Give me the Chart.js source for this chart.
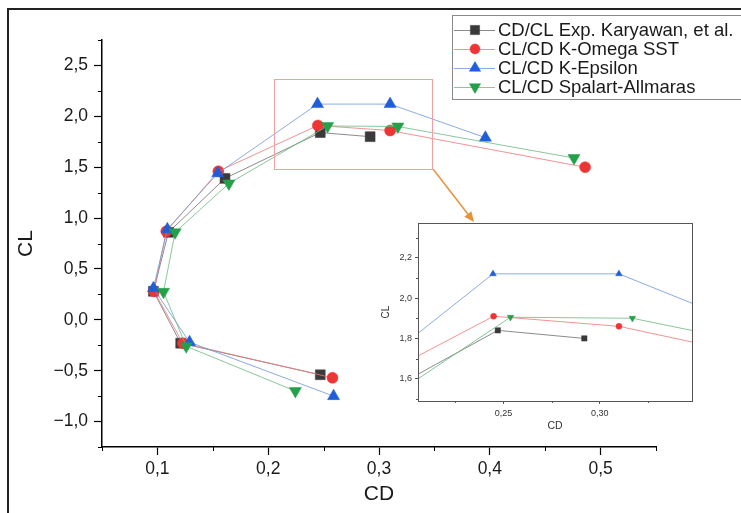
<!DOCTYPE html>
<html><head><meta charset="utf-8">
<script src="https://cdn.jsdelivr.net/npm/chart.js@4"></script>
<style>
html,body{margin:0;padding:0;background:#fff;}
#wrap{position:relative;width:741px;height:513px;overflow:hidden;background:#fff;}
#main{position:absolute;left:0;top:0;}
#inset{position:absolute;left:378px;top:215px;}
</style></head><body>
<div id="wrap"><canvas id="main" width="741" height="513"></canvas><canvas id="inset" width="322" height="225"></canvas></div>
<script>
// ---- data ----
const seriesNames = ['CD/CL Exp. Karyawan, et al.', 'CL/CD K-Omega SST', 'CL/CD K-Epsilon', 'CL/CD Spalart-Allmaras'];
const expCD    = [0.247, 0.121, 0.0964, 0.110, 0.161, 0.247, 0.292];
const expCL    = [-0.54, -0.23, 0.28, 0.86, 1.39, 1.84, 1.80];
const komegaCD = [0.258, 0.123, 0.097, 0.108, 0.155, 0.2448, 0.310, 0.486];
const komegaCL = [-0.57, -0.23, 0.28, 0.87, 1.46, 1.91, 1.86, 1.50];
const kepsCD   = [0.259, 0.129, 0.0964, 0.109, 0.1545, 0.2445, 0.310, 0.396];
const kepsCL   = [-0.75, -0.22, 0.31, 0.89, 1.44, 2.12, 2.12, 1.79];
const saCD     = [0.2245, 0.126, 0.1055, 0.116, 0.1645, 0.2536, 0.317, 0.476];
const saCL     = [-0.70, -0.26, 0.275, 0.86, 1.34, 1.905, 1.90, 1.59];

// main axes
const xRange = [0.05, 0.55];
const yRange = [-1.25, 2.75];
const xMajor = [0.1, 0.2, 0.3, 0.4, 0.5];
const xTickLabels = ['0,1', '0,2', '0,3', '0,4', '0,5'];
const xMinor = [0.05, 0.15, 0.25, 0.35, 0.45, 0.55];
const yMajor = [-1.0, -0.5, 0.0, 0.5, 1.0, 1.5, 2.0, 2.5];
const yTickLabels = ['\u22121,0', '\u22120,5', '0,0', '0,5', '1,0', '1,5', '2,0', '2,5'];
const yMinor = [-1.25, -0.75, -0.25, 0.25, 0.75, 1.25, 1.75, 2.25, 2.75];

// zoomed region (inset)
const zoomCD = [0.2055, 0.348];
const zoomCL = [1.49, 2.37];
const insetXMajor = [0.25, 0.30];
const insetXTickLabels = ['0,25', '0,30'];
const insetXMinor = [0.225, 0.275, 0.325];
const insetYMajor = [1.6, 1.8, 2.0, 2.2];
const insetYTickLabels = ['1,6', '1,8', '2,0', '2,2'];
const insetYMinor = [1.5, 1.7, 1.9, 2.1, 2.3];

// ---- styles ----
const styles = [
  {marker:'#3a3a3a', line:'rgba(90,90,90,0.7)', pointStyle:'rect', rotation:0, r:7, ri:3.8, rl:6.5},
  {marker:'#ee3535', line:'rgba(238,120,120,0.8)', pointStyle:'circle', rotation:0, r:5.5, ri:3, rl:5},
  {marker:'#1e5fd8', line:'rgba(110,150,220,0.8)', pointStyle:'triangle', rotation:0, r:7, ri:3.8, rl:6.5},
  {marker:'#22a04a', line:'rgba(110,185,130,0.8)', pointStyle:'triangle', rotation:180, r:7, ri:3.8, rl:6.5}
];
const xs = [expCD, komegaCD, kepsCD, saCD];
const ys = [expCL, komegaCL, kepsCL, saCL];

function makeDatasets(inset){
  return seriesNames.map((name,i)=>({
    label:name,
    data: xs[i].map((x,j)=>({x:x, y:ys[i][j]})),
    showLine:true,
    borderColor:styles[i].line,
    borderWidth:1,
    backgroundColor:styles[i].marker,
    pointBackgroundColor:styles[i].marker,
    pointBorderColor:styles[i].marker,
    pointBorderWidth:0.5,
    pointStyle:styles[i].pointStyle,
    rotation:styles[i].rotation,
    pointRadius: inset ? styles[i].ri : styles[i].r,
    pointHoverRadius: inset ? styles[i].ri : styles[i].r,
    tension:0
  })).reverse();
}

const FONT = "'Liberation Sans', Arial, sans-serif";
const near = (a,b)=>Math.abs(a-b)<1e-9;
function labelFor(v, majors, labels){
  const k = majors.findIndex(m=>near(m,v));
  return k>=0 ? labels[k] : '';
}

function minorTickPlugin(id, xMin, yMin, len, color){
  return {
    id:id,
    afterDraw(chart){
      const ctx = chart.ctx, xS = chart.scales.x, yS = chart.scales.y;
      ctx.save();
      ctx.strokeStyle = color; ctx.lineWidth = 1;
      ctx.beginPath();
      xMin.forEach(v=>{const p = Math.round(xS.getPixelForValue(v))+0.5; ctx.moveTo(p, yS.bottom); ctx.lineTo(p, yS.bottom+len);});
      yMin.forEach(v=>{const p = Math.round(yS.getPixelForValue(v))+0.5; ctx.moveTo(xS.left, p); ctx.lineTo(xS.left-len, p);});
      ctx.stroke();
      ctx.restore();
    }
  };
}

const decorPlugin = {
  id:'decor',
  beforeDraw(chart){
    const ctx = chart.ctx;
    ctx.save();
    ctx.fillStyle='#fff'; ctx.fillRect(0,0,chart.width,chart.height);
    ctx.strokeStyle='#222'; ctx.lineWidth=2;
    ctx.strokeRect(8,9,760,520);
    ctx.restore();
  },
  afterDraw(chart){
    const ctx = chart.ctx, xS = chart.scales.x, yS = chart.scales.y;
    ctx.save();
    // zoom box
    const x0 = xS.getPixelForValue(zoomCD[0]), x1 = xS.getPixelForValue(zoomCD[1]);
    const y0 = yS.getPixelForValue(zoomCL[1]), y1 = yS.getPixelForValue(zoomCL[0]);
    ctx.strokeStyle='#f0a0a0'; ctx.lineWidth=1;
    ctx.strokeRect(Math.round(x0)+0.5, Math.round(y0)+0.5, Math.round(x1-x0), Math.round(y1-y0));
    // arrow
    const ax = x1+1, ay = y1+1, bx = 474, by = 222;
    const ang = Math.atan2(by-ay, bx-ax);
    ctx.strokeStyle='#e8923a'; ctx.fillStyle='#e8923a'; ctx.lineWidth=1.5;
    ctx.beginPath(); ctx.moveTo(ax,ay); ctx.lineTo(bx-6*Math.cos(ang),by-6*Math.sin(ang)); ctx.stroke();
    ctx.beginPath();
    ctx.moveTo(bx,by);
    ctx.lineTo(bx-11*Math.cos(ang-0.42), by-11*Math.sin(ang-0.42));
    ctx.lineTo(bx-11*Math.cos(ang+0.42), by-11*Math.sin(ang+0.42));
    ctx.closePath(); ctx.fill();
    // legend
    const lx=452, ly=15, lw=320, lh=84;
    ctx.fillStyle='#fff'; ctx.fillRect(lx,ly,lw,lh);
    ctx.strokeStyle='#8a8a8a'; ctx.lineWidth=1;
    ctx.strokeRect(lx+0.5,ly+0.5,lw,lh);
    ctx.font = "18.5px " + FONT;
    ctx.textBaseline='middle'; ctx.textAlign='left';
    seriesNames.forEach((name,i)=>{
      const cy = 30 + i*19;
      ctx.strokeStyle = styles[i].line; ctx.lineWidth=1;
      ctx.beginPath(); ctx.moveTo(454,cy+0.5); ctx.lineTo(495,cy+0.5); ctx.stroke();
      ctx.fillStyle = styles[i].marker; ctx.strokeStyle = styles[i].marker; ctx.lineWidth=0.5;
      Chart.helpers.drawPoint(ctx, {pointStyle:styles[i].pointStyle, rotation:styles[i].rotation, radius:styles[i].rl, borderWidth:0.5}, 475, cy);
      ctx.fillStyle='#1a1a1a';
      ctx.fillText(name, 498, cy+1);
    });
    ctx.restore();
  }
};

Chart.defaults.font.family = FONT;
Chart.defaults.color = '#1a1a1a';

new Chart(document.getElementById('main'), {
  type:'scatter',
  data:{datasets:makeDatasets(false)},
  options:{
    responsive:false, animation:false, devicePixelRatio:1,
    layout:{padding:{left:14, right:85, top:40, bottom:4}},
    plugins:{legend:{display:false}, tooltip:{enabled:false}},
    scales:{
      x:{type:'linear', min:xRange[0], max:xRange[1],
        afterBuildTicks(s){ s.ticks = xMajor.map(v=>({value:v})); },
        afterFit(s){ s.height = 62; },
        grid:{drawOnChartArea:false, drawTicks:true, tickLength:8, tickColor:'#000', tickWidth:1.2},
        border:{color:'#000', width:1.5},
        ticks:{font:{size:17.5}, padding:4, maxRotation:0, autoSkip:false, color:'#1a1a1a',
          callback:(v)=>labelFor(v,xMajor,xTickLabels)},
        title:{display:true, text:'CD', font:{size:21}, padding:{top:0,bottom:2}, color:'#1a1a1a'}
      },
      y:{type:'linear', min:yRange[0], max:yRange[1],
        afterBuildTicks(s){ s.ticks = yMajor.map(v=>({value:v})); },
        afterFit(s){ s.width = 88; },
        grid:{drawOnChartArea:false, drawTicks:true, tickLength:8, tickColor:'#000', tickWidth:1.2},
        border:{color:'#000', width:1.5},
        ticks:{font:{size:17.5}, padding:6, autoSkip:false, color:'#1a1a1a',
          callback:(v)=>labelFor(v,yMajor,yTickLabels)},
        title:{display:true, text:'CL', font:{size:21}, padding:{top:0,bottom:4}, color:'#1a1a1a'}
      }
    }
  },
  plugins:[decorPlugin, minorTickPlugin('minorMain', xMinor, yMinor, 4, '#000')]
});

// inset: transparent canvas, white only inside its own plot box and axis zone below the arrow tip
const insetFrame = {
  id:'insetFrame',
  beforeDraw(chart){
    const ca = chart.chartArea, c = chart.ctx;
    c.save(); c.fillStyle='#fff';
    c.fillRect(0, ca.top, chart.width, chart.height - ca.top);
    c.restore();
  },
  afterDraw(chart){
    const ca = chart.chartArea, c = chart.ctx;
    c.save(); c.strokeStyle='#555'; c.lineWidth=1;
    c.strokeRect(Math.round(ca.left)+0.5, Math.round(ca.top)+0.5, Math.round(ca.right-ca.left), Math.round(ca.bottom-ca.top));
    c.restore();
  }
};

new Chart(document.getElementById('inset'), {
  type:'scatter',
  data:{datasets:makeDatasets(true)},
  options:{
    responsive:false, animation:false, devicePixelRatio:1,
    layout:{padding:{left:2, right:8, top:8, bottom:2}},
    plugins:{legend:{display:false}, tooltip:{enabled:false}},
    scales:{
      x:{type:'linear', min:zoomCD[0], max:zoomCD[1],
        afterBuildTicks(s){ s.ticks = insetXMajor.map(v=>({value:v})); },
        afterFit(s){ s.height = 37; },
        grid:{drawOnChartArea:false, tickLength:3, tickColor:'#555'},
        border:{color:'#555', width:1},
        ticks:{font:{size:9}, padding:4, maxRotation:0, autoSkip:false, color:'#333',
          callback:(v)=>labelFor(v,insetXMajor,insetXTickLabels)},
        title:{display:true, text:'CD', font:{size:10.5}, padding:{top:0,bottom:6}, color:'#333'}
      },
      y:{type:'linear', min:zoomCL[0], max:zoomCL[1],
        afterBuildTicks(s){ s.ticks = insetYMajor.map(v=>({value:v})); },
        afterFit(s){ s.width = 38; },
        grid:{drawOnChartArea:false, tickLength:3, tickColor:'#555'},
        border:{color:'#555', width:1},
        ticks:{font:{size:9}, padding:3, autoSkip:false, color:'#333',
          callback:(v)=>labelFor(v,insetYMajor,insetYTickLabels)},
        title:{display:true, text:'CL', font:{size:10}, padding:{top:0,bottom:2}, color:'#333'}
      }
    }
  },
  plugins:[insetFrame, minorTickPlugin('minorInset', insetXMinor, insetYMinor, 2, '#555')]
});
</script>
</body></html>
